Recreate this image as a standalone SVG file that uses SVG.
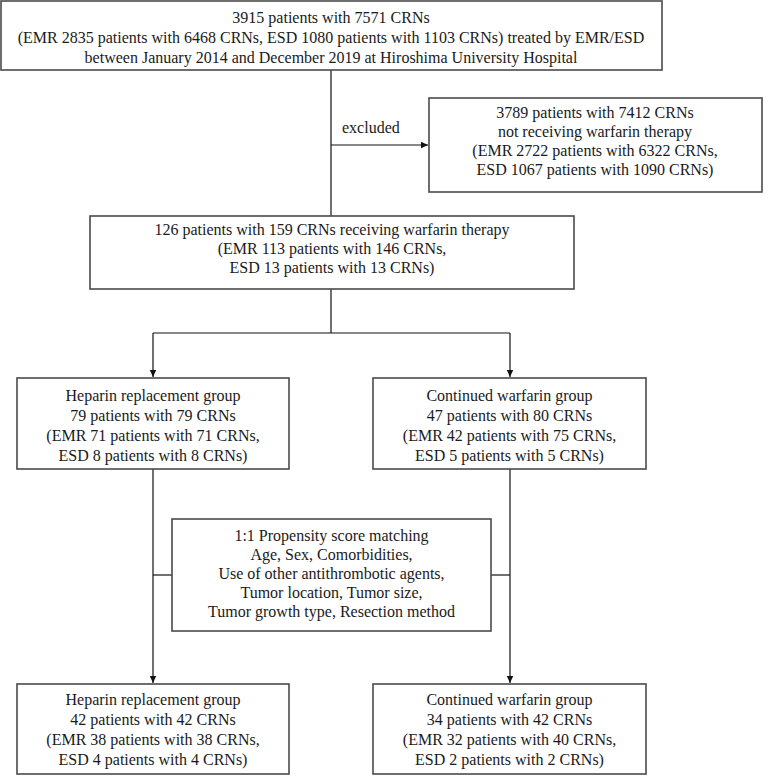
<svg xmlns="http://www.w3.org/2000/svg" width="771" height="776" viewBox="0 0 771 776">
<defs>
<style>
.box{fill:#fff;stroke:#4a4a4a;stroke-width:1.6}
.t{font-family:"Liberation Serif","Times New Roman",serif;font-size:16px;fill:#1a1a1a;text-anchor:middle}
.l{font-family:"Liberation Serif","Times New Roman",serif;font-size:16px;fill:#1a1a1a}
.c{fill:none;stroke:#111;stroke-width:1.2}
</style>
<marker id="ah" markerWidth="8" markerHeight="8" refX="7" refY="4" orient="auto" markerUnits="userSpaceOnUse">
<path d="M0,0.8 L7,4 L0,7.2 Z" fill="#111"/>
</marker>
</defs>
<rect width="771" height="776" fill="#fff"/>
<g id="connectors">
<path class="c" d="M331,70 V216"/>
<path class="c" d="M331,145 H428" marker-end="url(#ah)"/>
<path class="c" d="M331,289 V333"/>
<path class="c" d="M153,333 H510"/>
<path class="c" d="M153,333 V377" marker-end="url(#ah)"/>
<path class="c" d="M510,333 V377" marker-end="url(#ah)"/>
<path class="c" d="M153,469 V683" marker-end="url(#ah)"/>
<path class="c" d="M510,469 V683" marker-end="url(#ah)"/>
<path class="c" d="M153,575 H172"/>
<path class="c" d="M491,575 H510"/>
<text class="l" x="342" y="133">excluded</text>
</g>
<g id="n-all">
<rect class="box" x="1" y="1" width="661" height="69"/>
<text class="t" x="331" y="22.5">3915 patients with 7571 CRNs</text>
<text class="t" x="331" y="42.5">(EMR 2835 patients with 6468 CRNs, ESD 1080 patients with 1103 CRNs) treated by EMR/ESD</text>
<text class="t" x="331" y="62.5">between January 2014 and December 2019 at Hiroshima University Hospital</text>
</g>
<g id="n-excluded">
<rect class="box" x="429" y="98" width="333" height="94"/>
<text class="t" x="595" y="117.5">3789 patients with 7412 CRNs</text>
<text class="t" x="595" y="136.5">not receiving warfarin therapy</text>
<text class="t" x="595" y="155.5">(EMR 2722 patients with 6322 CRNs,</text>
<text class="t" x="595" y="174.5">ESD 1067 patients with 1090 CRNs)</text>
</g>
<g id="n-warfarin">
<rect class="box" x="90" y="216" width="484" height="73"/>
<text class="t" x="332" y="235">126 patients with 159 CRNs receiving warfarin therapy</text>
<text class="t" x="332" y="254">(EMR 113 patients with 146 CRNs,</text>
<text class="t" x="332" y="273">ESD 13 patients with 13 CRNs)</text>
</g>
<g id="n-heparin1">
<rect class="box" x="17" y="378" width="272" height="91"/>
<text class="t" x="153" y="400.5">Heparin replacement group</text>
<text class="t" x="153" y="420.5">79 patients with 79 CRNs</text>
<text class="t" x="153" y="440.5">(EMR 71 patients with 71 CRNs,</text>
<text class="t" x="153" y="460.5">ESD 8 patients with 8 CRNs)</text>
</g>
<g id="n-continued1">
<rect class="box" x="373" y="378" width="273" height="91"/>
<text class="t" x="509.5" y="400.5">Continued warfarin group</text>
<text class="t" x="509.5" y="420.5">47 patients with 80 CRNs</text>
<text class="t" x="509.5" y="440.5">(EMR 42 patients with 75 CRNs,</text>
<text class="t" x="509.5" y="460.5">ESD 5 patients with 5 CRNs)</text>
</g>
<g id="n-psm">
<rect class="box" x="172" y="519" width="319" height="112"/>
<text class="t" x="331.5" y="540.5">1:1 Propensity score matching</text>
<text class="t" x="331.5" y="559.5">Age, Sex, Comorbidities,</text>
<text class="t" x="331.5" y="578.5">Use of other antithrombotic agents,</text>
<text class="t" x="331.5" y="597.5">Tumor location, Tumor size,</text>
<text class="t" x="331.5" y="616.5">Tumor growth type, Resection method</text>
</g>
<g id="n-heparin2">
<rect class="box" x="17" y="684" width="272" height="90"/>
<text class="t" x="153" y="704.5">Heparin replacement group</text>
<text class="t" x="153" y="724.5">42 patients with 42 CRNs</text>
<text class="t" x="153" y="744.5">(EMR 38 patients with 38 CRNs,</text>
<text class="t" x="153" y="764.5">ESD 4 patients with 4 CRNs)</text>
</g>
<g id="n-continued2">
<rect class="box" x="373" y="684" width="273" height="90"/>
<text class="t" x="509.5" y="704.5">Continued warfarin group</text>
<text class="t" x="509.5" y="724.5">34 patients with 42 CRNs</text>
<text class="t" x="509.5" y="744.5">(EMR 32 patients with 40 CRNs,</text>
<text class="t" x="509.5" y="764.5">ESD 2 patients with 2 CRNs)</text>
</g>
</svg>
